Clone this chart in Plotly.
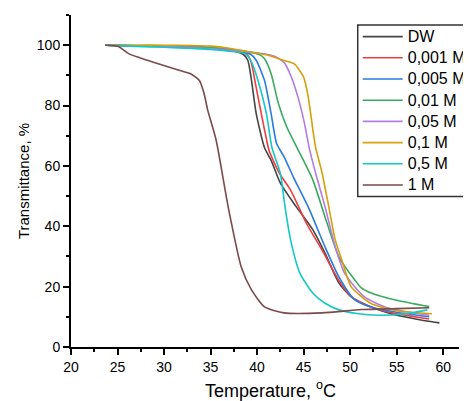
import plotly.graph_objects as go

names = ["DW", "0,001 M", "0,005 M", "0,01 M", "0,05 M", "0,1 M", "0,5 M", "1 M"]
colors = ["#454545", "#f03c3c", "#2a7be0", "#3aaa5e", "#b27ce2", "#d4a10a", "#12c8c8", "#7b4a4a"]

t_dw = [23.7, 27, 30, 33, 35, 37, 38.5, 39.0, 39.4, 39.9, 40.8, 41.5, 42.5, 44.2, 46.0, 47.3, 48.8, 50.1, 52.2, 55, 57, 59.6]
y_dw = [100, 99.8, 99.7, 99.3, 99, 98.3, 97, 95, 88.3, 77.4, 66, 61.9, 54.3, 46.5, 38.8, 31.1, 21.2, 16.7, 13.3, 10.5, 9.3, 8]

t_001 = [23.7, 27, 30, 33, 35, 37, 38.8, 39.3, 39.9, 40.6, 41.3, 42.0, 42.5, 43.6, 45.3, 47.0, 48.8, 50.1, 52, 55, 58.5]
y_001 = [100, 99.8, 99.7, 99.4, 99, 98.3, 97.2, 95, 86, 75, 65, 60, 57, 52, 41, 32, 22, 16.7, 13.5, 11, 9.3]

t_005 = [23.7, 27, 30, 33, 35, 37, 39.3, 39.9, 40.8, 41.5, 42.1, 42.9, 43.9, 45.6, 47.3, 48.8, 50.5, 52.5, 55, 58.5]
y_005 = [100, 99.8, 99.7, 99.4, 99, 98.4, 97, 95, 88.3, 77.4, 67.4, 63, 56.3, 45.7, 33.2, 23.2, 15.6, 13, 11.5, 10]

t_01 = [23.7, 27, 30, 33, 35, 37, 39, 40.3, 40.8, 41.5, 42.3, 43.2, 44.3, 46, 47.3, 48.8, 50.5, 51.2, 52.2, 55, 58.5]
y_01 = [100, 99.9, 99.8, 99.6, 99.3, 98.7, 97.8, 96.8, 95.5, 90.6, 80.6, 72.8, 66, 55.3, 43.1, 29.8, 22.2, 19.6, 18, 15.5, 13.4]

t_05 = [23.7, 27, 30, 33, 35, 37, 39, 41, 41.8, 42.9, 43.7, 44.4, 45.1, 45.6, 46.3, 47.3, 48.4, 49.4, 51.5, 54, 58.5]
y_05 = [100, 99.8, 99.6, 99.2, 98.9, 98.4, 97.8, 97, 96.4, 94.3, 89.3, 82.7, 74, 66, 57.5, 46.5, 33.2, 24.5, 16.7, 13, 10.5]

t_1 = [23.7, 27, 30, 33, 35, 37, 38.4, 41, 42.9, 44.0, 45.0, 45.5, 46.0, 46.3, 47.0, 47.7, 48.4, 49.1, 50.1, 52.2, 55, 58.8]
y_1 = [100, 100, 100, 99.9, 99.7, 99, 98.2, 96.8, 94.9, 93.8, 89.4, 82.8, 71.8, 66, 57.5, 46.5, 35.5, 28.9, 20, 14.5, 12, 11]

t_5 = [23.7, 27, 30, 33, 35, 37, 38.7, 39.4, 40.1, 41.0, 41.6, 42.5, 43.0, 43.6, 44.6, 46.0, 47.3, 48.8, 50.9, 53, 56, 58.3]
y_5 = [100, 99.6, 99.3, 98.9, 98.6, 98, 97.2, 94.5, 88.3, 77.4, 66, 57.5, 46.5, 35.5, 24.5, 17.8, 14.5, 12.3, 11.0, 10.5, 11, 12.3]

t_1m = [23.7, 25.1, 26.2, 28.3, 31.7, 32.8, 33.8, 34.3, 34.7, 35.6, 36.9, 38.3, 39.4, 40.8, 42.9, 47, 51.2, 55, 58.5]
y_1m = [100, 99.6, 97.2, 94.9, 91.6, 90.6, 88.3, 84, 78.4, 68.5, 46.3, 26.5, 18.9, 13.3, 11.3, 11.3, 12.4, 12.7, 13]

xs = [t_dw, t_001, t_005, t_01, t_05, t_1, t_5, t_1m]
ys = [y_dw, y_001, y_005, y_01, y_05, y_1, y_5, y_1m]

x_ticks = [20, 25, 30, 35, 40, 45, 50, 55, 60]
y_ticks = [0, 20, 40, 60, 80, 100]

FONT = "Arial, Liberation Sans, sans-serif"

fig = go.Figure()
for n, c, x, y in zip(names, colors, xs, ys):
    fig.add_trace(go.Scatter(x=x, y=y, name='<span style="font-size:16px">' + n + '</span>', mode="lines",
                             line=dict(color=c, width=1.6, shape="spline", smoothing=0.6)))

axis_common = dict(showline=True, linecolor="black", linewidth=2, ticks="outside",
                   ticklen=6, tickwidth=2, tickcolor="black", showgrid=False, zeroline=False,
                   automargin=False,
                   tickfont=dict(family=FONT, size=14, color="black"))

fig.update_xaxes(range=[20, 61.7], tickvals=x_ticks,
                 minor=dict(ticks="outside", ticklen=3, tickwidth=2, tickcolor="black", dtick=2.5, tick0=20),
                 **axis_common)
fig.update_yaxes(range=[0, 110], tickvals=y_ticks,
                 minor=dict(ticks="outside", ticklen=3, tickwidth=2, tickcolor="black", dtick=10, tick0=0),
                 title=dict(text="Transmittance, %", font=dict(family=FONT, size=15, color="black"), standoff=4),
                 **axis_common)

# x-axis title placed as an annotation so it can sit slightly right of centre, as in the reference
fig.add_annotation(text="Temperature, <sup>o</sup>C", xref="paper", yref="paper",
                   x=0.515, y=-0.128, xanchor="center", yanchor="middle", showarrow=False,
                   font=dict(family=FONT, size=18, color="black"))

# legend frame (page body has an 8px margin; figure coordinates compensate for it)
fig.add_shape(type="rect", xref="paper", yref="paper", x0=0.739, x1=1.03, y0=0.453, y1=0.970,
              line=dict(color="#333333", width=1.5), fillcolor="white", layer="below")

fig.update_layout(
    width=463, height=393,
    margin=dict(l=63, r=0, t=7, b=54),
    plot_bgcolor="rgba(0,0,0,0)", paper_bgcolor="white",
    legend=dict(x=0.739, y=0.982, xanchor="left", yanchor="top",
                bgcolor="rgba(0,0,0,0)", borderwidth=0,
                font=dict(family=FONT, size=14, color="black"),
                itemwidth=40, tracegroupgap=0),
)

fig.write_html("out.html")
